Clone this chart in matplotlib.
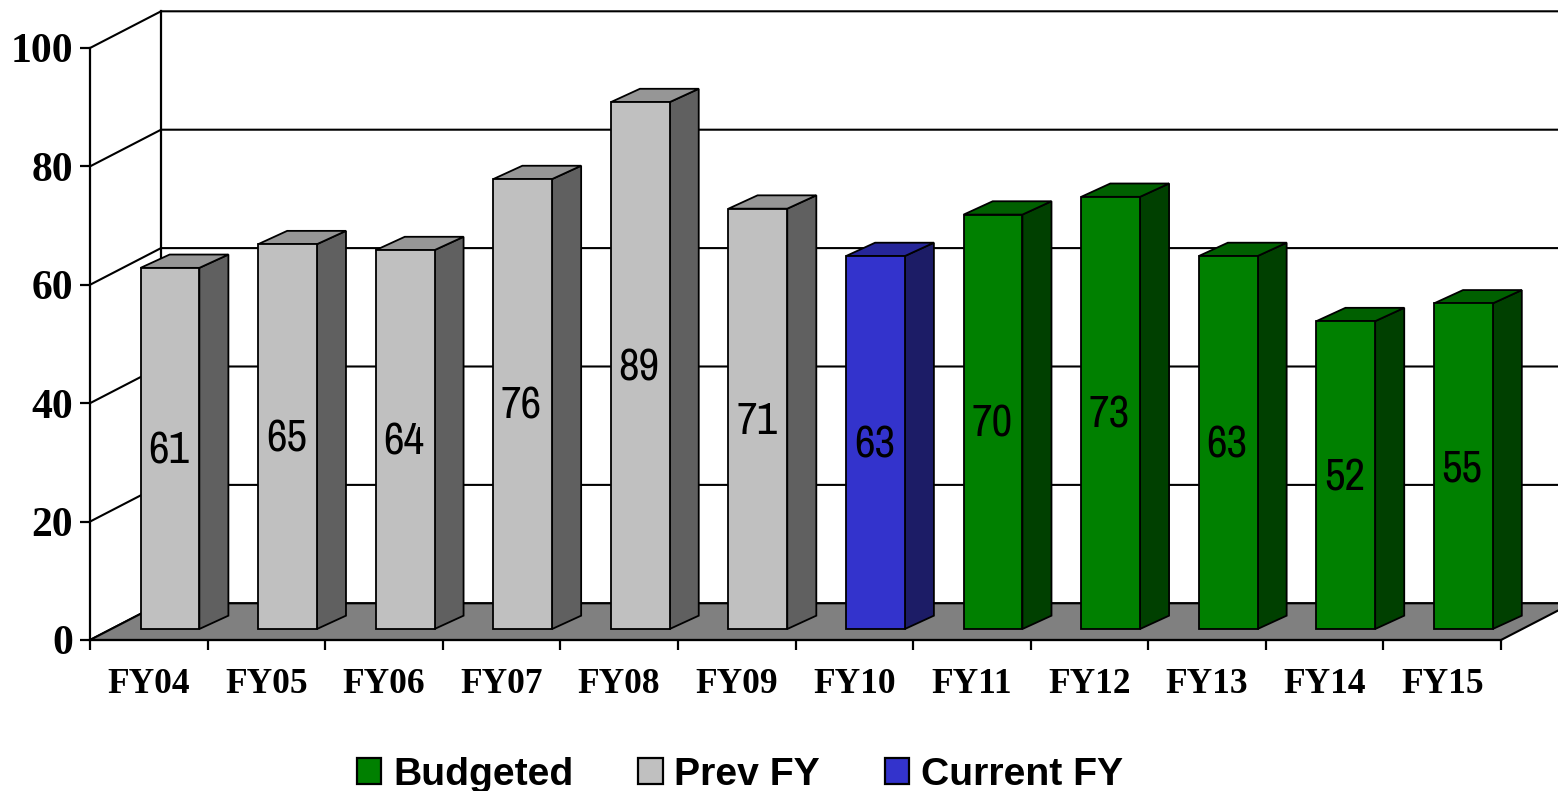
import matplotlib
matplotlib.use('Agg')
import matplotlib.pyplot as plt
from matplotlib.patches import Polygon, Patch

labels = ['FY04', 'FY05', 'FY06', 'FY07', 'FY08', 'FY09', 'FY10', 'FY11', 'FY12', 'FY13', 'FY14', 'FY15']
values = [61, 65, 64, 76, 89, 71, 63, 70, 73, 63, 52, 55]
groups = ['prev', 'prev', 'prev', 'prev', 'prev', 'prev', 'current',
          'budget', 'budget', 'budget', 'budget', 'budget']
yticks = [0, 20, 40, 60, 80, 100]

# front, side, top colours
colors = {'prev': ('#C0C0C0', '#606060', '#969696'),
          'current': ('#3333CC', '#1C1C66', '#262699'),
          'budget': ('#008000', '#004000', '#006000')}

# fake 3d offsets in data units
wall_dx = 0.604
wall_dy = 6.2
bar_dx = 0.247
bar_dy = 2.25
off_x = 0.18
off_y = 1.86
bar_w = 0.5

W, H = 1558, 791
fig = plt.figure(figsize=(W / 100, H / 100), dpi=100)
ax = fig.add_axes([90 / W, 1 - 640 / H, (1501 - 90) / W, (640 - 48) / H])
ax.set_xlim(0, 12)
ax.set_ylim(0, 100)
ax.patch.set_visible(False)

for s in ['top', 'right']:
    ax.spines[s].set_visible(False)
for s in ['left', 'bottom']:
    ax.spines[s].set_linewidth(1.6)
    ax.spines[s].set_zorder(6)

# walls
far = 12 + wall_dx
for v in yticks:
    ax.plot([0, wall_dx, far], [v, v + wall_dy, v + wall_dy], color='black', lw=1.5, clip_on=False, zorder=1)
ax.plot([wall_dx, wall_dx], [wall_dy, 100 + wall_dy], color='black', lw=1.6, clip_on=False, zorder=1)

# floor
ax.add_patch(Polygon([(0, 0), (wall_dx, wall_dy), (far, wall_dy), (12, 0)], closed=True,
                     facecolor='#808080', edgecolor='black', lw=1.5, clip_on=False, zorder=2))

for i, v in enumerate(values):
    x0 = i + (1 - bar_w) / 2 + off_x
    x1 = x0 + bar_w
    front, side, top = colors[groups[i]]
    y0 = off_y
    y1 = off_y + v
    ax.add_patch(Polygon([(x1, y0), (x1 + bar_dx, y0 + bar_dy), (x1 + bar_dx, y1 + bar_dy), (x1, y1)],
                         facecolor=side, edgecolor='black', lw=1.3, clip_on=False, zorder=3))
    ax.add_patch(Polygon([(x0, y1), (x1, y1), (x1 + bar_dx, y1 + bar_dy), (x0 + bar_dx, y1 + bar_dy)],
                         facecolor=top, edgecolor='black', lw=1.3, clip_on=False, zorder=3))
    ax.add_patch(Polygon([(x0, y0), (x1, y0), (x1, y1), (x0, y1)],
                         facecolor=front, edgecolor='black', lw=1.3, clip_on=False, zorder=4))
    ax.text((x0 + x1) / 2 - 0.01, y0 + v / 2 - 0.5, str(v), ha='center', va='center', fontsize=32.5,
            family=['Archivo Narrow', 'Liberation Sans'], color='black', zorder=5)

ax.set_yticks(yticks)
ax.set_yticklabels([str(v) for v in yticks], family='Liberation Serif', fontweight='bold', fontsize=30)
ax.tick_params(axis='y', length=7, width=1.6, pad=5)

ax.set_xticks(range(13))
ax.set_xticklabels([])
ax.tick_params(axis='x', which='major', length=7, width=1.6)
ax.set_xticks([i + 0.5 for i in range(12)], minor=True)
ax.set_xticklabels(labels, minor=True, family='Liberation Serif', fontweight='bold', fontsize=25.5)
ax.tick_params(axis='x', which='minor', length=0, pad=20)

handles = [Patch(facecolor=colors['budget'][0], edgecolor='black', lw=1.6, label='Budgeted'),
           Patch(facecolor=colors['prev'][0], edgecolor='black', lw=1.6, label='Prev FY'),
           Patch(facecolor=colors['current'][0], edgecolor='black', lw=1.6, label='Current FY')]
fig.legend(handles=handles, ncol=3, loc='center', bbox_to_anchor=(740 / W, 1 - 775 / H), frameon=False,
           prop={'family': 'Liberation Sans', 'weight': 'bold', 'size': 28.2},
           handlelength=0.63, handleheight=0.63, handletextpad=0.3, columnspacing=1.65,
           borderpad=0, borderaxespad=0)

plt.savefig('out.png', dpi=100)
